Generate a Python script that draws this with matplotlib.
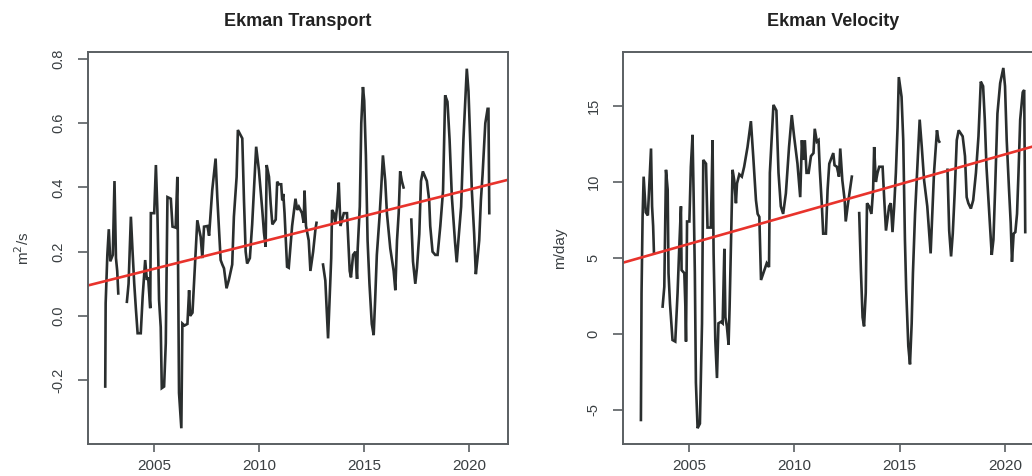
import numpy as np
import matplotlib
matplotlib.use("Agg")
import matplotlib.pyplot as plt

plt.rcParams['font.family'] = ['Liberation Sans', 'DejaVu Sans']

nan = np.nan

# Ekman transport (m2/s), gaps marked with nan
transport_years = [
    2002.69, 2002.71, 2002.79, 2002.86, 2002.93, 2003.05, 2003.13, 2003.20, 2003.26, 2003.31, nan,
    2003.72, 2003.80, 2003.91, 2003.99, 2004.07, 2004.15, 2004.23, 2004.38, 2004.47, 2004.59,
    2004.67, 2004.73, 2004.83, 2004.86, 2005.02, 2005.10, 2005.17, 2005.25, 2005.33, 2005.38,
    2005.49, 2005.57, 2005.65, 2005.81, 2005.89, 2006.04, 2006.12, 2006.15, 2006.20, 2006.31,
    2006.36, 2006.46, 2006.60, 2006.68, 2006.73, 2006.84, 2006.92, 2007.07, 2007.23, 2007.31,
    2007.39, 2007.55, 2007.63, 2007.78, 2007.94, 2008.02, 2008.18, 2008.26, 2008.34, 2008.46,
    2008.57, 2008.73, 2008.81, 2008.94, 2009.00, 2009.21, 2009.29, 2009.37, 2009.44, 2009.57,
    2009.68, 2009.87, 2010.00, 2010.16, 2010.24, 2010.32, 2010.37, 2010.48, 2010.56, 2010.64,
    2010.80, 2010.87, 2010.95, 2011.06, 2011.11, 2011.16, 2011.22, 2011.34, 2011.42, 2011.58,
    2011.74, 2011.82, 2011.90, 2012.05, 2012.13, 2012.17, 2012.24, 2012.37, 2012.45, 2012.58,
    2012.69, 2012.74, nan,
    2013.05, 2013.16, 2013.24, 2013.29, 2013.35, 2013.44, 2013.48, 2013.56, 2013.64, 2013.72,
    2013.80, 2013.88, 2013.96, 2014.04, 2014.19, 2014.27, 2014.32, 2014.38, 2014.48, 2014.59,
    2014.67, 2014.70, 2014.80, 2014.87, 2014.95, 2015.01, 2015.09, 2015.17, 2015.26, 2015.37,
    2015.46, 2015.53, 2015.61, 2015.74, 2015.82, 2015.90, 2016.01, 2016.09, 2016.25, 2016.41,
    2016.49, 2016.57, 2016.65, 2016.72, 2016.80, 2016.88, nan,
    2017.25, 2017.33, 2017.44, 2017.52, 2017.63, 2017.71, 2017.80, 2017.99, 2018.10, 2018.15,
    2018.26, 2018.39, 2018.50, 2018.63, 2018.76, 2018.86, 2018.97, 2019.07, 2019.18, 2019.33,
    2019.41, 2019.49, 2019.62, 2019.73, 2019.89, 2019.97, 2020.05, 2020.13, 2020.24, 2020.32,
    2020.40, 2020.48, 2020.56, 2020.64, 2020.77, 2020.88, 2020.92, 2020.96]
transport = [
    -0.22, 0.04, 0.19, 0.27, 0.17, 0.19, 0.42, 0.18, 0.14, 0.07, nan,
    0.044, 0.10, 0.309, 0.20, 0.10, 0.02, -0.054, -0.054, 0.06, 0.174,
    0.112, 0.12, 0.024, 0.32, 0.32, 0.47, 0.33, 0.05, -0.035, -0.225,
    -0.22, -0.085, 0.37, 0.365, 0.278, 0.275, 0.433, 0.20, -0.24, -0.35,
    -0.024, -0.03, -0.025, 0.08, 0.0, 0.01, 0.11, 0.298, 0.246, 0.18,
    0.278, 0.28, 0.25, 0.392, 0.49, 0.37, 0.174, 0.16, 0.148, 0.086,
    0.112, 0.16, 0.309, 0.433, 0.579, 0.553, 0.36, 0.20, 0.163, 0.18,
    0.285, 0.527, 0.454, 0.33, 0.26, 0.215, 0.47, 0.433, 0.35, 0.285,
    0.30, 0.418, 0.41, 0.41, 0.36, 0.38, 0.32, 0.153, 0.15, 0.28,
    0.365, 0.33, 0.34, 0.32, 0.29, 0.39, 0.28, 0.235, 0.14, 0.20,
    0.27, 0.29, nan,
    0.16, 0.11, 0.0, -0.07, 0.03, 0.18, 0.33, 0.32, 0.29, 0.34,
    0.415, 0.28, 0.30, 0.32, 0.32, 0.21, 0.14, 0.12, 0.19, 0.20,
    0.115, 0.21, 0.34, 0.60, 0.713, 0.67, 0.50, 0.235, 0.10, -0.025,
    -0.06, 0.05, 0.19, 0.31, 0.40, 0.50, 0.42, 0.32, 0.21, 0.14,
    0.08, 0.235, 0.32, 0.45, 0.42, 0.40, nan,
    0.30, 0.17, 0.10, 0.15, 0.255, 0.42, 0.45, 0.42, 0.36, 0.28,
    0.20, 0.19, 0.19, 0.28, 0.39, 0.687, 0.667, 0.55, 0.37, 0.23,
    0.167, 0.235, 0.34, 0.55, 0.77, 0.70, 0.55, 0.39, 0.256, 0.13,
    0.18, 0.235, 0.36, 0.44, 0.60, 0.645, 0.645, 0.32]

# Ekman velocity (m/day)
velocity_years = [
    2002.72, 2002.75, 2002.80, 2002.85, 2002.95, 2003.05, 2003.20, 2003.25, 2003.30, 2003.34, nan,
    2003.75, 2003.83, 2003.91, 2003.99, 2004.03, 2004.10, 2004.22, 2004.35, 2004.46, 2004.54,
    2004.62, 2004.65, 2004.78, 2004.83, 2004.86, 2004.91, 2005.02, 2005.09, 2005.17, 2005.22,
    2005.28, 2005.33, 2005.41, 2005.52, 2005.57, 2005.62, 2005.68, 2005.81, 2005.88, 2006.04,
    2006.12, 2006.17, 2006.25, 2006.33, 2006.40, 2006.52, 2006.60, 2006.68, 2006.73, 2006.80,
    2006.88, 2006.93, 2007.00, 2007.07, 2007.15, 2007.23, 2007.28, 2007.39, 2007.51, 2007.62,
    2007.78, 2007.94, 2008.05, 2008.18, 2008.26, 2008.34, 2008.42, 2008.53, 2008.69, 2008.80,
    2008.84, 2009.01, 2009.15, 2009.25, 2009.36, 2009.47, 2009.60, 2009.75, 2009.88, 2009.99,
    2010.15, 2010.28, 2010.36, 2010.42, 2010.50, 2010.58, 2010.68, 2010.79, 2010.91, 2010.97,
    2011.07, 2011.15, 2011.21, 2011.31, 2011.37, 2011.50, 2011.58, 2011.66, 2011.85, 2011.91,
    2012.02, 2012.12, 2012.18, 2012.28, 2012.39, 2012.44, 2012.55, 2012.63, 2012.73, nan,
    2013.08, 2013.16, 2013.24, 2013.31, 2013.39, 2013.45, 2013.55, 2013.66, 2013.74, 2013.79,
    2013.87, 2013.95, 2014.03, 2014.19, 2014.27, 2014.35, 2014.50, 2014.58, 2014.66, 2014.74,
    2014.82, 2014.90, 2014.96, 2015.09, 2015.17, 2015.25, 2015.31, 2015.41, 2015.49, 2015.57,
    2015.63, 2015.73, 2015.84, 2015.95, 2016.05, 2016.16, 2016.31, 2016.47, 2016.55, 2016.63,
    2016.77, 2016.84, 2016.88, nan,
    2017.27, 2017.35, 2017.44, 2017.52, 2017.61, 2017.71, 2017.80, 2017.99, 2018.10, 2018.18,
    2018.26, 2018.38, 2018.49, 2018.62, 2018.74, 2018.85, 2018.96, 2019.04, 2019.12, 2019.23,
    2019.32, 2019.37, 2019.45, 2019.53, 2019.64, 2019.77, 2019.92, 2020.00, 2020.08, 2020.19,
    2020.27, 2020.33, 2020.41, 2020.49, 2020.57, 2020.64, 2020.72, 2020.84, 2020.91, 2020.96]
velocity = [
    -5.66, 2.7, 7.7, 10.35, 8.0, 7.8, 12.2, 8.4, 7.1, 5.3, nan,
    1.8, 3.1, 10.8, 9.5, 4.0, 2.0, -0.4, -0.5, 2.7, 5.7,
    8.4, 4.2, 4.0, 1.8, -0.5, 7.4, 7.4, 11.0, 13.1, 9.25,
    4.0, -3.2, -6.2, -5.9, -2.6, 0.7, 11.45, 11.2, 7.0, 7.0,
    12.75, 5.3, -0.4, -2.9, 0.7, 0.8, 0.7, 5.6, 1.1, 0.5,
    -0.7, 1.8, 6.2, 10.8, 10.1, 8.6, 9.9, 10.5, 10.35, 11.0,
    12.3, 14.0, 11.7, 8.8, 7.9, 7.7, 3.55, 4.0, 4.65, 4.4,
    10.6, 15.07, 14.7, 10.6, 8.4, 7.9, 9.25, 12.3, 14.4, 13.0,
    11.2, 9.0, 12.75, 11.45, 12.75, 10.6, 10.6, 11.7, 11.9, 13.5,
    12.65, 12.75, 10.8, 8.4, 6.6, 6.6, 9.5, 11.2, 11.9, 11.1,
    11.0, 10.35, 12.2, 10.1, 8.8, 7.4, 8.6, 9.4, 10.35, nan,
    7.95, 4.2, 1.1, 0.5, 2.7, 8.6, 8.4, 7.9, 9.5, 12.3,
    10.0, 10.6, 11.0, 11.0, 8.8, 6.8, 8.4, 8.6, 6.7, 8.4,
    10.6, 13.6, 16.9, 15.6, 12.75, 6.2, 2.9, -0.8, -2.0, 0.7,
    4.0, 7.9, 11.0, 14.1, 12.3, 10.1, 8.4, 5.3, 7.9, 10.6,
    13.4, 12.75, 12.65, nan,
    10.8, 6.8, 5.1, 6.6, 9.25, 12.75, 13.4, 13.0, 11.7, 9.0,
    8.6, 8.25, 8.8, 10.6, 13.0, 16.6, 16.3, 14.1, 11.0, 8.4,
    6.2, 5.2, 6.2, 9.5, 14.5, 16.5, 17.5, 16.3, 12.75, 9.5,
    7.3, 4.75, 6.6, 6.7, 7.9, 10.6, 14.1, 15.9, 16.05, 6.7]

# linear trends (value at 2002, slope per year)
transport_trend = (0.097, 0.01647)
velocity_trend = (4.74, 0.393)

x_ticks = [2005, 2010, 2015, 2020]
transport_ticks = [-0.2, 0.0, 0.2, 0.4, 0.6, 0.8]
transport_labels = ['-0.2', '0.0', '0.2', '0.4', '0.6', '0.8']
velocity_ticks = [-5, 0, 5, 10, 15]
velocity_labels = ['-5', '0', '5', '10', '15']

W, H = 1032, 476
fig = plt.figure(figsize=(W / 100, H / 100), dpi=100)
ax1 = fig.add_axes([88 / W, (H - 444) / H, 420 / W, 392 / H])
ax2 = fig.add_axes([623 / W, (H - 444) / H, 421 / W, 392 / H])

line_col = '#2a2e2e'
red = '#e8332c'
frame_col = '#5a5f62'
txt_col = '#3a3f42'

panels = [
    (ax1, transport_years, transport, transport_trend, 'Ekman Transport', r'm$^2$/s',
     transport_ticks, transport_labels, (-0.399, 0.822)),
    (ax2, velocity_years, velocity, velocity_trend, 'Ekman Velocity', 'm/day',
     velocity_ticks, velocity_labels, (-7.24, 18.55)),
]

for ax, yrs, vals, trend, title, ylab, yt, ytl, ylim in panels:
    ax.plot(yrs, vals, color=line_col, lw=1.9, solid_joinstyle='miter')
    ax.axline((2002, trend[0]), slope=trend[1], color=red, lw=1.9)
    ax.set_xlim(2001.87, 2021.85)
    ax.set_ylim(*ylim)
    ax.set_xticks(x_ticks)
    ax.set_xticklabels([str(t) for t in x_ticks], fontsize=11, color=txt_col)
    ax.set_yticks(yt)
    ax.set_yticklabels(ytl, fontsize=10.5, color=txt_col, rotation=90, va='center')
    ax.tick_params(axis='x', length=6, width=1.2, color=frame_col, pad=5)
    ax.tick_params(axis='y', length=7, width=1.2, color=frame_col, pad=9)
    for s in ax.spines.values():
        s.set_color(frame_col)
        s.set_linewidth(1.4)
    ax.set_title(title, fontsize=13, fontweight='bold', color='#222222', pad=19)
    ax.set_ylabel(ylab, fontsize=11, color=txt_col, labelpad=14)

fig.savefig('out.png', dpi=100)
